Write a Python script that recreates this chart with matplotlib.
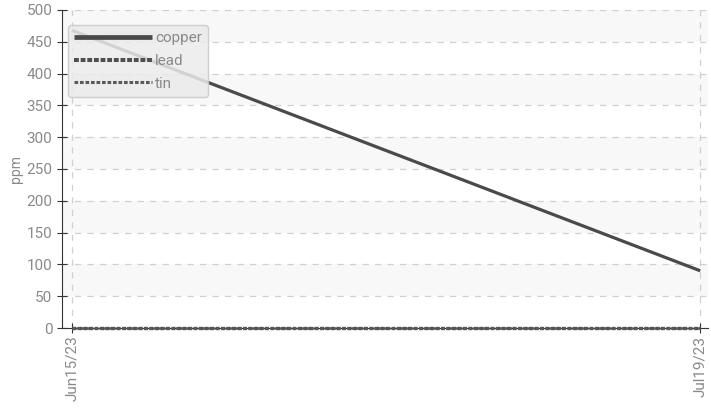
import matplotlib
matplotlib.use("Agg")
import matplotlib.pyplot as plt
import numpy as np
from datetime import datetime, timedelta

plt.rcParams['font.family'] = ['Roboto', 'DejaVu Sans']

# data
dates = [datetime(2023, 6, 15), datetime(2023, 7, 19)]
tick_labels = ["Jun15/23", "Jul19/23"]
copper = [468, 90]
lead = [0, 0]
tin = [0, 0]

grey_txt = "#8a8a8a"

fig = plt.figure(figsize=(7.11, 4.09), dpi=100)
ax = fig.add_axes([0.0872, 0.198, 0.9088, 0.7776])

# faint alternating bands
for lo in range(50, 500, 100):
    ax.axhspan(lo, lo + 50, color="#f8f8f8", zorder=0, lw=0)

ax.plot(dates, copper, color="#4a4a4a", lw=2.3, solid_capstyle="butt", label="copper", zorder=3)
ax.plot(dates, lead, color="#4f4f4f", lw=2.4, dashes=(1.2, 0.45), label="lead",
        zorder=4, clip_on=False)
ax.plot(dates, tin, color="#5a5a5a", lw=1.8, dashes=(1.2, 0.6), label="tin",
        zorder=4, clip_on=False)

ax.set_ylim(0, 500)
ax.set_yticks(np.arange(0, 501, 50))
ax.set_xlim(dates[0] - timedelta(days=0.54), dates[1] + timedelta(days=0.43))
ax.set_xticks(dates)
ax.set_xticklabels(tick_labels, rotation=90)

ax.grid(True, color="#d0d0d0", linestyle=(0, (5, 5)), lw=0.9, zorder=1)
ax.set_axisbelow(True)

for s in ["top", "right"]:
    ax.spines[s].set_visible(False)
ax.spines["left"].set_color("#333333")
ax.spines["bottom"].set_color("#333333")
ax.tick_params(axis="both", direction="inout", length=7, color="#333333",
               labelcolor=grey_txt, labelsize=11)
ax.tick_params(axis="x", pad=2)

ax.set_ylabel("ppm", color=grey_txt, fontsize=10, labelpad=2)

leg = ax.legend(loc="upper left", bbox_to_anchor=(0.009, 0.953), borderaxespad=0,
                frameon=True, handlelength=5.1, handletextpad=0.2, labelspacing=0.58,
                fontsize=11, borderpad=0.4, fancybox=True)
leg.get_frame().set_facecolor("#ebebeb")
leg.get_frame().set_edgecolor("#c8c8c8")
leg.get_frame().set_alpha(0.85)
leg.set_zorder(5)
for t in leg.get_texts():
    t.set_color(grey_txt)
for ln, w in zip(leg.get_lines(), [3.4, 2.9, 2.2]):
    ln.set_linewidth(w)

fig.savefig("out.png", dpi=100)
